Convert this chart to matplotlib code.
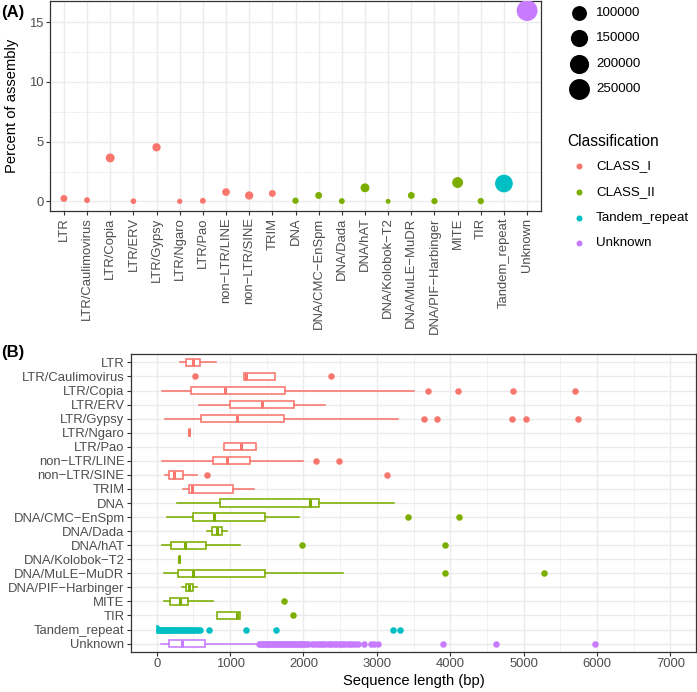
import numpy as np
import matplotlib.pyplot as plt

plt.rcParams['font.family'] = ['Liberation Sans', 'DejaVu Sans']

W, H = 697, 692

categories = ['LTR', 'LTR/Caulimovirus', 'LTR/Copia', 'LTR/ERV', 'LTR/Gypsy', 'LTR/Ngaro',
              'LTR/Pao', 'non\u2212LTR/LINE', 'non\u2212LTR/SINE', 'TRIM', 'DNA',
              'DNA/CMC\u2212EnSpm', 'DNA/Dada', 'DNA/hAT', 'DNA/Kolobok\u2212T2',
              'DNA/MuLE\u2212MuDR', 'DNA/PIF\u2212Harbinger', 'MITE', 'TIR',
              'Tandem_repeat', 'Unknown']
classes = ['CLASS_I'] * 10 + ['CLASS_II'] * 9 + ['Tandem_repeat', 'Unknown']
class_names = ['CLASS_I', 'CLASS_II', 'Tandem_repeat', 'Unknown']
class_colors = {'CLASS_I': '#F8766D', 'CLASS_II': '#7CAE00',
                'Tandem_repeat': '#00BFC4', 'Unknown': '#C77CFF'}

# panel A: percent of assembly and copy number (size)
percent = [0.25, 0.11, 3.64, 0.02, 4.53, 0.01, 0.05, 0.78, 0.50, 0.67, 0.06,
           0.50, 0.03, 1.14, 0.01, 0.50, 0.03, 1.58, 0.03, 1.50, 15.97]
copies = [5000, 1600, 17500, 1100, 12900, 460, 1600, 9100, 12900, 5000, 2700,
          5000, 1600, 17500, 85, 5000, 2700, 37500, 2700, 162000, 250000]
size_breaks = [100000, 150000, 200000, 250000]

# panel B: box stats (whislo, q1, med, q3, whishi) and outliers
box_stats = [
    (318, 398, 498, 589, 806),
    (1191, 1191, 1214, 1618, 1618),
    (72, 466, 929, 1754, 3509),
    (580, 1006, 1441, 1867, 2288),
    (113, 602, 1088, 1735, 3285),
    (438, 438, 444, 450, 450),
    (915, 915, 1146, 1360, 1360),
    (68, 761, 960, 1269, 1994),
    (113, 172, 240, 362, 552),
    (362, 444, 485, 1042, 1323),
    (272, 861, 2094, 2212, 3231),
    (136, 489, 783, 1472, 1939),
    (688, 752, 816, 884, 960),
    (77, 194, 389, 670, 1142),
    (304, 304, 308, 312, 312),
    (104, 285, 489, 1482, 2537),
    (340, 394, 439, 498, 552),
    (104, 181, 317, 430, 761),
    (825, 825, 1096, 1142, 1142),
    (2, 8, 12, 18, 30),
    (54, 168, 349, 657, 1382),
]
tandem_out = [35, 50, 65, 80, 95, 110, 125, 140, 155, 170, 185, 200, 215, 230, 250,
              270, 290, 310, 330, 350, 370, 390, 410, 430, 450, 470, 490, 510, 540,
              560, 590, 711, 1214, 1622, 3226, 3322]
unknown_out = [1390, 1410, 1430, 1450, 1470, 1490, 1510, 1530, 1550, 1570, 1590,
               1610, 1630, 1650, 1670, 1690, 1710, 1730, 1750, 1770, 1790, 1810,
               1830, 1850, 1870, 1890, 1910, 1930, 1950, 1970, 1990, 2010, 2030,
               2060, 2121, 2150, 2180, 2210, 2240, 2270, 2300, 2330, 2360, 2390,
               2424, 2447, 2480, 2510, 2540, 2570, 2605, 2628, 2660, 2700, 2741,
               2819, 2923, 2968, 3013, 3906, 4631, 5977]
outliers = [[], [525, 2379], [3693, 4101, 4862, 5701], [], [3639, 3820, 4840, 5039, 5738],
            [], [], [2175, 2479], [680, 3141], [], [], [3430, 4124], [], [1985, 3929],
            [], [3924, 5284], [], [1735], [1858], tandem_out, unknown_out]


def size_of(c):
    r = 2.3 + 8.3 * np.sqrt(np.asarray(c) / 260000.0)
    return (2 * r * 0.72) ** 2


def rect(l, t, r, b):
    return [l / W, 1 - b / H, (r - l) / W, (b - t) / H]


grey_txt = '#4D4D4D'
grid_c = '#EBEBEB'

fig = plt.figure(figsize=(W / 100, H / 100), dpi=100)

# ---------------- panel A
axA = fig.add_axes(rect(50, 1, 541, 211))
xs = np.arange(len(categories))
axA.scatter(xs, percent, s=size_of(copies), c=[class_colors[c] for c in classes],
            linewidths=0, zorder=3)
axA.set_xlim(-0.6, len(categories) - 0.4)
axA.set_ylim(-0.8, 16.77)
axA.set_xticks(xs)
axA.set_xticklabels(categories, rotation=90, ha='center', va='top')
axA.set_yticks([0, 5, 10, 15])
axA.set_yticks([2.5, 7.5, 12.5], minor=True)
axA.grid(True, which='major', color=grid_c, lw=1.0, zorder=0)
axA.grid(True, which='minor', axis='y', color=grid_c, lw=0.5, zorder=0)
axA.tick_params(which='minor', length=0)

# ---------------- panel B
axB = fig.add_axes(rect(131, 354, 696, 652))
for i, (st, fl) in enumerate(zip(box_stats, outliers)):
    col = class_colors[classes[i]]
    d = dict(whislo=st[0], q1=st[1], med=st[2], q3=st[3], whishi=st[4], fliers=fl)
    axB.bxp([d], positions=[i], widths=0.52, orientation='horizontal',
            showcaps=False, patch_artist=True,
            boxprops=dict(facecolor='white', edgecolor=col, lw=1.15),
            whiskerprops=dict(color=col, lw=1.15),
            medianprops=dict(color=col, lw=2.2),
            flierprops=dict(marker='o', markerfacecolor=col, markeredgecolor=col,
                            markersize=4.7, markeredgewidth=0),
            zorder=3)
axB.set_xlim(-350, 7350)
axB.set_ylim(len(categories) - 0.4, -0.6)
axB.set_yticks(xs)
axB.set_yticklabels(categories)
axB.set_xticks(np.arange(0, 7001, 1000))
axB.set_xticklabels([str(v) for v in range(0, 7001, 1000)])
axB.set_xticks(np.arange(500, 7001, 1000), minor=True)
axB.grid(True, which='major', color=grid_c, lw=1.0, zorder=0)
axB.grid(True, which='minor', axis='x', color=grid_c, lw=0.5, zorder=0)
axB.tick_params(which='minor', length=0)

for ax in (axA, axB):
    ax.set_axisbelow(True)
    for sp in ax.spines.values():
        sp.set_color('#333333')
        sp.set_linewidth(0.9)
    ax.tick_params(which='major', length=2.6, width=0.8, color='#333333',
                   labelsize=9.4, labelcolor=grey_txt, pad=2)

# axis titles and panel tags
fig.text(12 / W, 1 - 106 / H, 'Percent of assembly', rotation=90, ha='center',
         va='center', fontsize=10.6)
fig.text(413.5 / W, 1 - 681 / H, 'Sequence length (bp)', ha='center', va='center',
         fontsize=10.6)
fig.text(1 / W, 1 - 12 / H, '(A)', ha='left', va='center', fontsize=12,
         fontweight='bold')
fig.text(1 / W, 1 - 353 / H, '(B)', ha='left', va='center', fontsize=12,
         fontweight='bold')

# legend
lg = fig.add_axes([0, 0, 1, 1])
lg.set_xlim(0, W)
lg.set_ylim(H, 0)
lg.axis('off')
for v, y in zip(size_breaks, [13, 38, 64, 89]):
    lg.scatter(579, y, s=size_of(v), color='black', linewidths=0)
    lg.text(596, y, str(v), va='center', ha='left', fontsize=9.6)
lg.text(567, 142, 'Classification', va='center', ha='left', fontsize=11.2)
for cls, y in zip(class_names, [166, 192, 218, 243]):
    lg.scatter(579, y, s=(2 * 3.0 * 0.72) ** 2, color=class_colors[cls], linewidths=0)
    lg.text(596, y, cls, va='center', ha='left', fontsize=9.6)

fig.savefig('out.png', dpi=100)
